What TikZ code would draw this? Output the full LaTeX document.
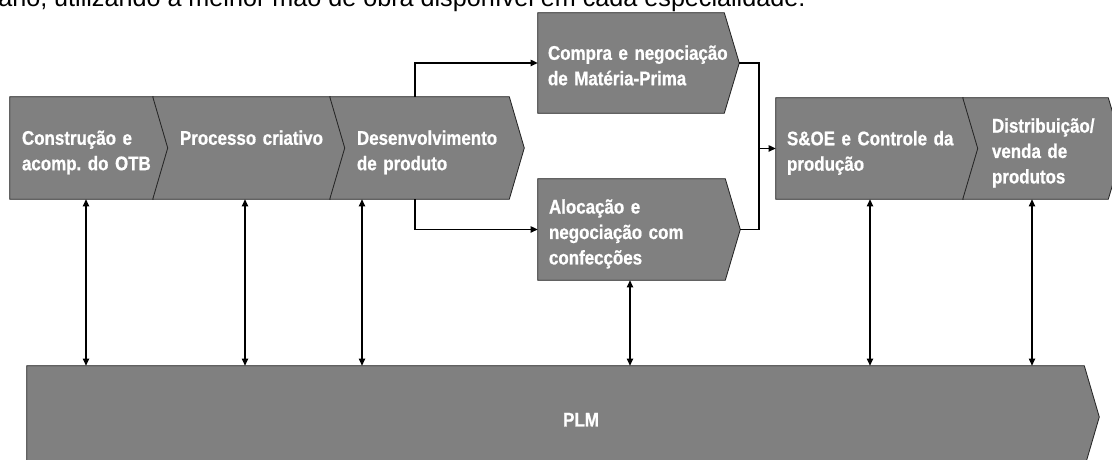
\documentclass[tikz,border=0pt]{standalone}
\usepackage{fontspec}
\newfontfamily\boxfont[FakeStretch=0.86,WordSpace=0.75,FakeBold=0.8]{Liberation Sans}
\newfontfamily\topfont{Liberation Sans}
\usepackage{tikz}
\usetikzlibrary{arrows.meta,backgrounds}
\frenchspacing

\begin{document}
\begin{tikzpicture}[every node/.style={font=\boxfont\bfseries\fontsize{14}{18.1}\selectfont, text=white},
  stage/.style={rectangle, inner sep=0pt, minimum height=2.55cm, align=left, execute at begin node={\rule{0pt}{0.6cm}}, execute at end node={\rule[-0.125cm]{0pt}{0.125cm}}},
  stagebg/.style={fill=gray, draw=black!85, line width=0.6pt},
  link/.style={{Triangle[length=1.8mm,width=1.6mm]}-{Triangle[length=1.8mm,width=1.6mm]}, line width=0.8pt},
  flow/.style={-{Triangle[length=1.8mm,width=1.6mm]}, line width=1.2pt}]
  \useasboundingbox (0,0) rectangle (27.8,11.5);
  \node[font=\topfont\fontsize{17.9}{20}\selectfont, text=black, anchor=base west, inner sep=0pt] (intro) at (-0.05,11.34) {ano, utilizando a melhor mão de obra disponível em cada especialidade.};
  \node[stage, minimum width=3.95cm, text width=3.35cm] (otb) at (2.225,7.8) {Construção e\\acomp. do OTB};
  \node[stage, minimum width=4.8cm, text width=3.45cm] (cri) at (6.225,7.8) {\mbox{Processo criativo}\\\mbox{}};
  \node[stage, minimum width=4.85cm, text width=3.5cm] (dev) at (10.675,7.8) {Desenvolvimento\\de produto};
  \node[stage, minimum width=5.025cm, minimum height=2.5cm, text width=4.525cm] (mp) at (15.9625,9.925) {\mbox{Compra e negociação}\\de Matéria-Prima};
  \node[stage, minimum width=5.05cm, minimum height=2.525cm, text width=4.5cm] (conf) at (15.975,5.7625) {Alocação e\\\mbox{negociação com}\\confecções};
  \node[stage, minimum width=5.05cm, minimum height=2.525cm, text width=4.5cm] (sop) at (21.925,7.7875) {\mbox{S\&OE e Controle da}\\produção};
  \node[stage, minimum width=4.0cm, minimum height=2.525cm, text width=2.55cm] (dist) at (26.075,7.7875) {Distribuição/\\venda de\\produtos};
  \node[stage, minimum width=26.8cm, align=center, execute at begin node={}, execute at end node={}] (plm) at (14.075,1.075) {\hspace*{0.9cm}PLM};
  % chevron outlines behind the texts
  \begin{scope}[on background layer]
    \foreach \n/\k in {otb/0, cri/1, dev/1, mp/0, conf/0, sop/0, dist/1, plm/0}
      \draw[stagebg] (\n.north west) -- ([xshift=-3.75mm]\n.north east) -- (\n.east) -- ([xshift=-3.75mm]\n.south east) -- (\n.south west) -- ([xshift=\k*3.75mm]\n.west) -- cycle;
  \end{scope}
  \foreach \n/\dx in {otb/-0.075, cri/-0.1, dev/-1.625, conf/-0.225, sop/-0.175, dist/-0.275}
    \draw[link] ([xshift=\dx cm]\n.south) coordinate (t) -- (t |- plm.north);
  \draw[flow] ([xshift=-0.3cm]dev.north) |- (mp.west);
  \draw[flow] ([xshift=-0.3cm]dev.south) |- (conf.west);
  \coordinate (jn) at ([xshift=-0.425cm]sop.west);
  \draw[line width=1.2pt] (mp.east) -| (jn) |- (conf.east);
  \draw[flow] (jn) -- (sop.west);
\end{tikzpicture}
\end{document}
